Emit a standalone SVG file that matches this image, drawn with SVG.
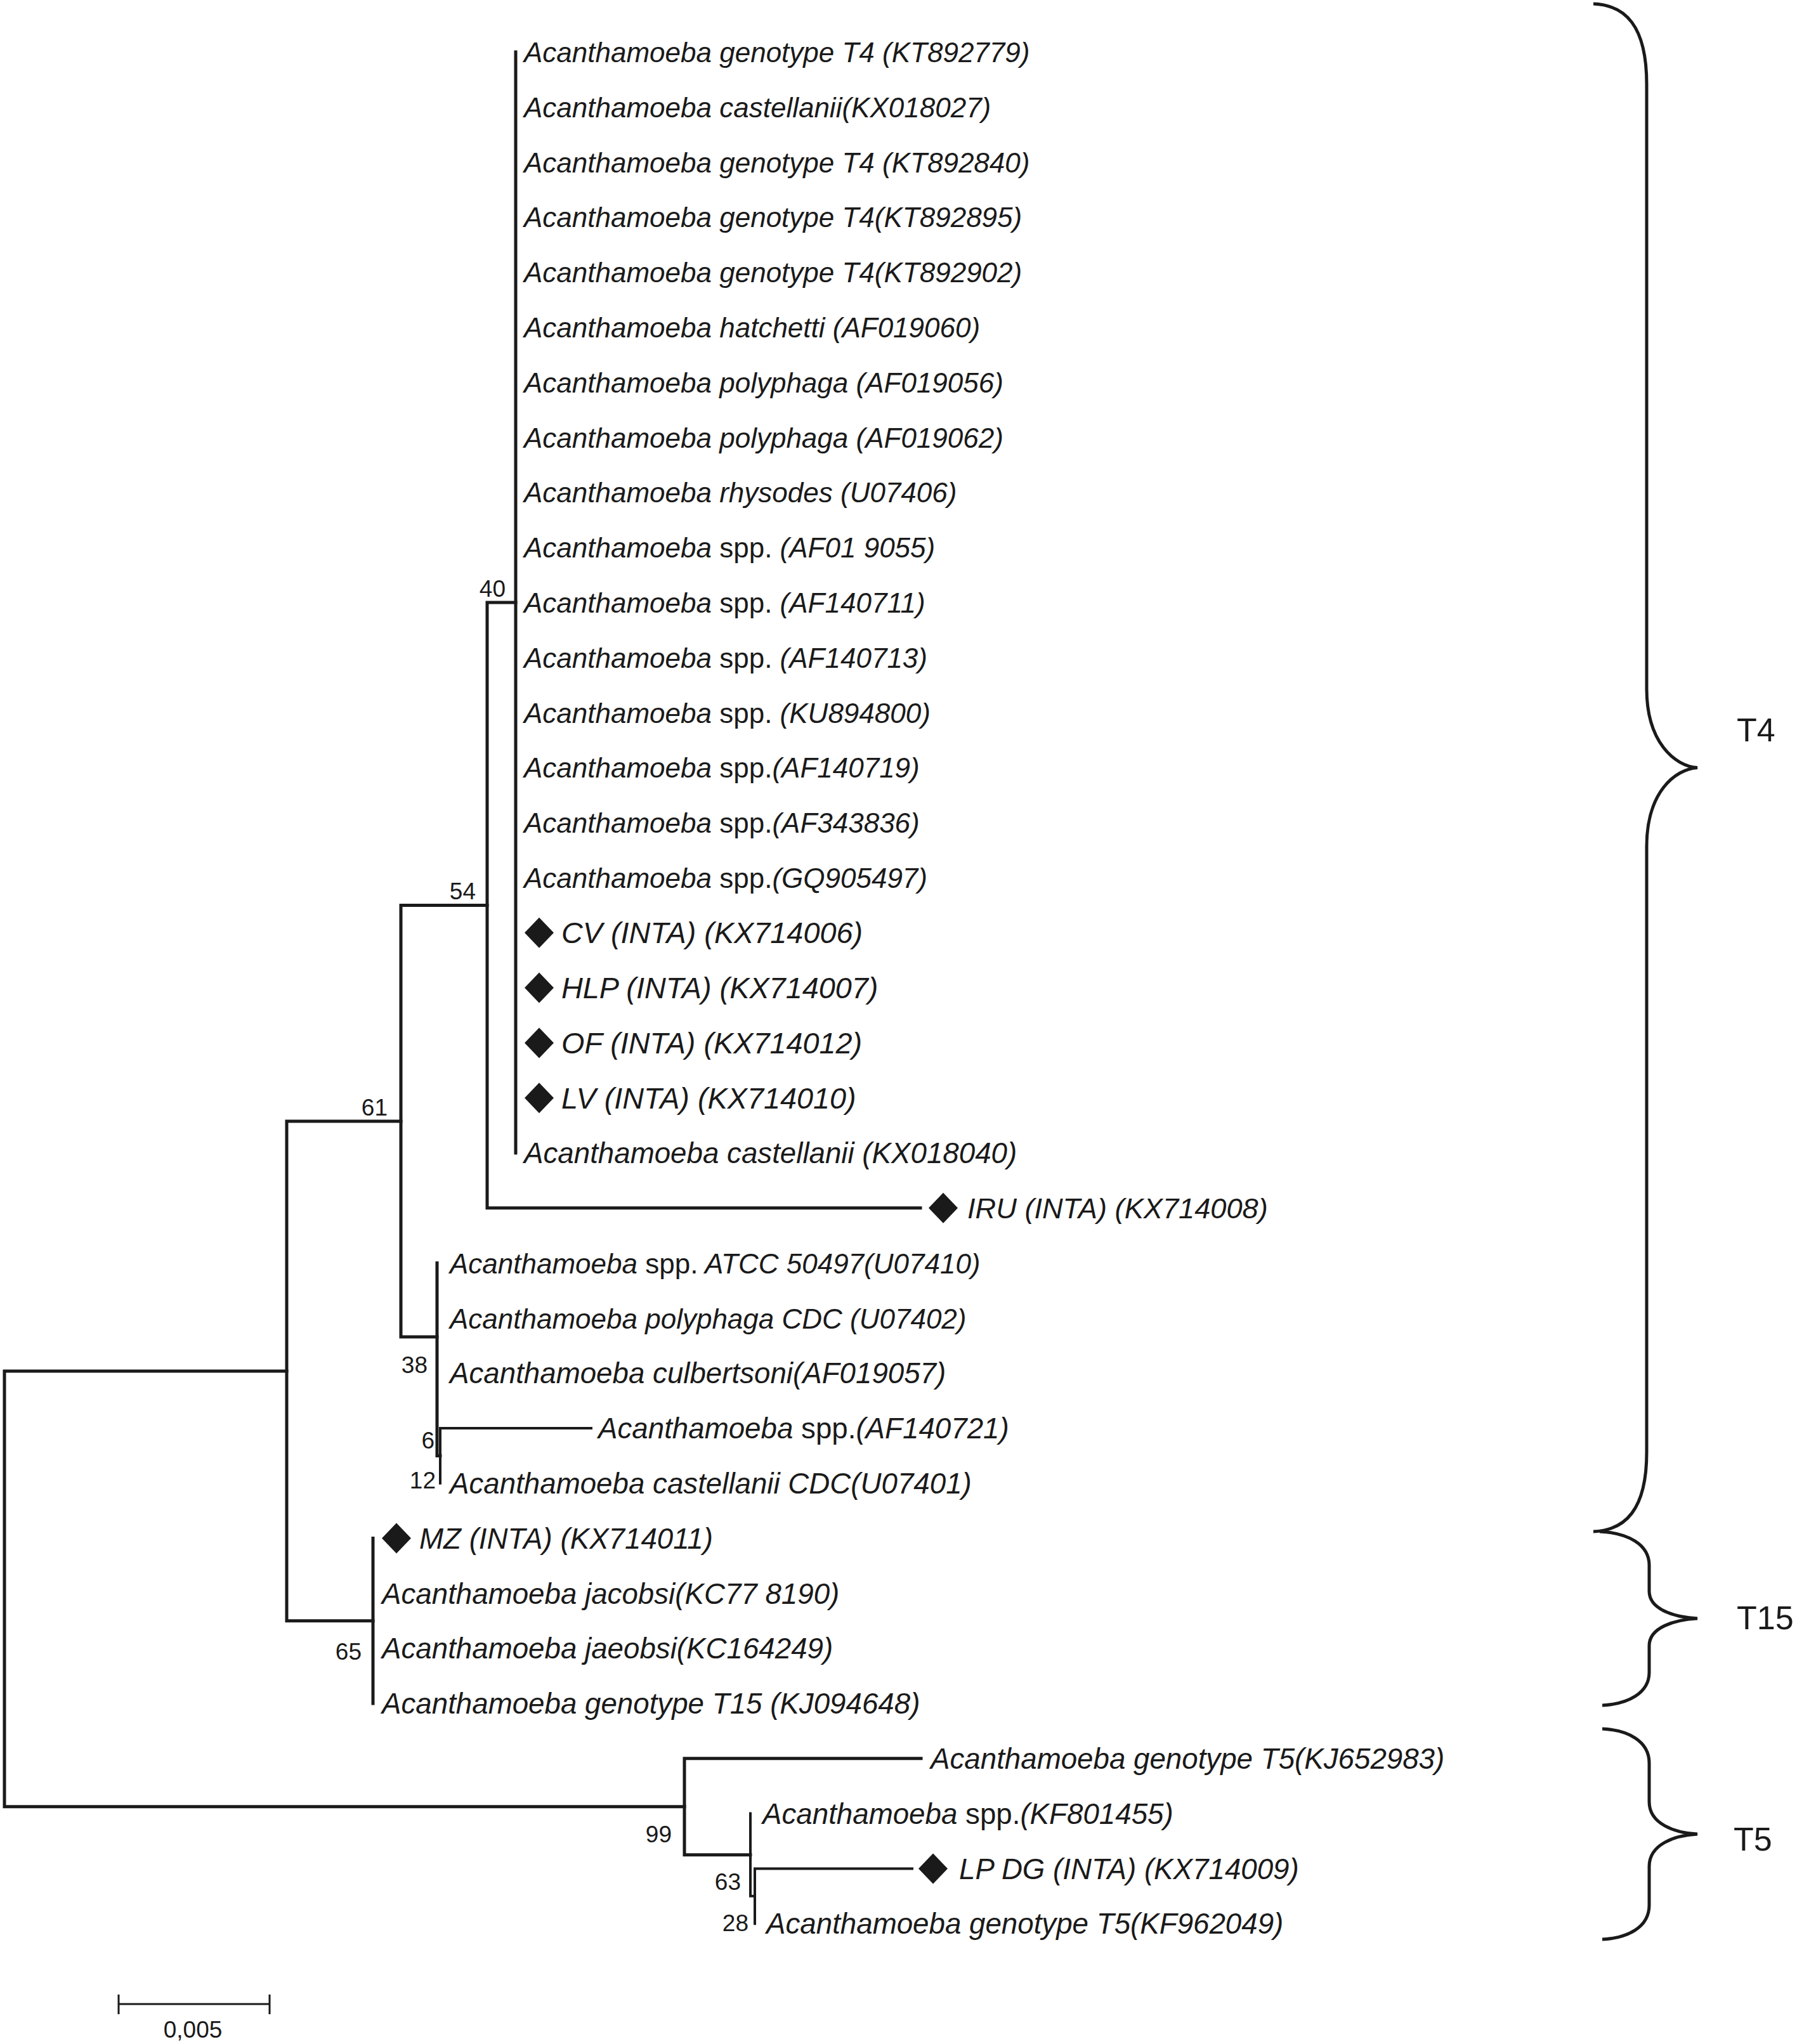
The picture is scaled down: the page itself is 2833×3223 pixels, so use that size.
<svg xmlns="http://www.w3.org/2000/svg" xmlns:xlink="http://www.w3.org/1999/xlink" width="2833" height="3223" viewBox="0 0 2833 3223">
<style>
.br{fill:none;stroke:#1a1a1a;stroke-width:5;stroke-linecap:square;stroke-linejoin:miter}
.thin{stroke-width:4}
.tip{font-family:"Liberation Sans",Arial,sans-serif;font-size:44px;font-style:italic;fill:#1a1a1a}
.lo{font-size:45.7px}
.in{font-size:46.8px}
.n{font-style:normal}
.bs{font-family:"Liberation Sans",Arial,sans-serif;font-size:37px;fill:#1a1a1a;text-anchor:end}
.grp{font-family:"Liberation Sans",Arial,sans-serif;font-size:52px;fill:#1a1a1a}
.brace{fill:none;stroke:#1a1a1a;stroke-width:5}
.sc{fill:none;stroke:#1a1a1a;stroke-width:3}
.dia{fill:#1a1a1a}
</style>
<defs>
<path id="dia" d="M0,-24 L23,0 L0,24 L-23,0Z"/>
</defs>
<rect width="2833" height="3223" fill="#ffffff"/>
<g id="branches">
<path class="br" d="M813,82 V1818"/>
<path class="br" d="M813,950 H768 V1904.8 H1451"/>
<path class="br" d="M768,1427.4 H632 V2108 H689"/>
<path class="br" d="M689,1991.6 V2295.4 H694"/>
<path class="br thin" d="M932,2252 H694 V2338.8"/>
<path class="br" d="M632,1768 H452 V2555.8 H588"/>
<path class="br" d="M588,2425.6 V2686"/>
<path class="br" d="M452,2162 H7 V2848.7 H1079"/>
<path class="br" d="M1452,2772.8 H1079 V2924.7 H1183"/>
<path class="br thin" d="M1183,2859.6 V2989.8 H1190"/>
<path class="br thin" d="M1438,2946.4 H1190 V3033.2"/>
</g>
<g id="support">
<text class="bs" x="797" y="941">40</text>
<text class="bs" x="750" y="1418">54</text>
<text class="bs" x="611" y="1759">61</text>
<text class="bs" x="674" y="2165">38</text>
<text class="bs" x="685" y="2284">6</text>
<text class="bs" x="687" y="2347">12</text>
<text class="bs" x="570" y="2617">65</text>
<text class="bs" x="1059" y="2905">99</text>
<text class="bs" x="1168" y="2980">63</text>
<text class="bs" x="1180" y="3045">28</text>
</g>
<g id="tips">
<g id="t1"><text class="tip" x="826" y="98">Acanthamoeba genotype T4 (KT892779)</text></g>
<g id="t2"><text class="tip" x="826" y="185">Acanthamoeba castellanii(KX018027)</text></g>
<g id="t3"><text class="tip" x="826" y="272">Acanthamoeba genotype T4 (KT892840)</text></g>
<g id="t4"><text class="tip" x="826" y="358">Acanthamoeba genotype T4(KT892895)</text></g>
<g id="t5"><text class="tip" x="826" y="445">Acanthamoeba genotype T4(KT892902)</text></g>
<g id="t6"><text class="tip" x="826" y="532">Acanthamoeba hatchetti (AF019060)</text></g>
<g id="t7"><text class="tip" x="826" y="619">Acanthamoeba polyphaga (AF019056)</text></g>
<g id="t8"><text class="tip" x="826" y="706">Acanthamoeba polyphaga (AF019062)</text></g>
<g id="t9"><text class="tip" x="826" y="792">Acanthamoeba rhysodes (U07406)</text></g>
<g id="t10"><text class="tip" x="826" y="879">Acanthamoeba <tspan class="n">spp.</tspan> (AF01 9055)</text></g>
<g id="t11"><text class="tip" x="826" y="966">Acanthamoeba <tspan class="n">spp.</tspan> (AF140711)</text></g>
<g id="t12"><text class="tip" x="826" y="1053">Acanthamoeba <tspan class="n">spp.</tspan> (AF140713)</text></g>
<g id="t13"><text class="tip" x="826" y="1140">Acanthamoeba <tspan class="n">spp.</tspan> (KU894800)</text></g>
<g id="t14"><text class="tip" x="826" y="1226">Acanthamoeba <tspan class="n">spp.</tspan>(AF140719)</text></g>
<g id="t15"><text class="tip" x="826" y="1313">Acanthamoeba <tspan class="n">spp.</tspan>(AF343836)</text></g>
<g id="t16"><text class="tip" x="826" y="1400">Acanthamoeba <tspan class="n">spp.</tspan>(GQ905497)</text></g>
<g id="t17"><use xlink:href="#dia" class="dia" x="850" y="1470.8"/><text class="tip in" x="885" y="1487">CV (INTA) (KX714006)</text></g>
<g id="t18"><use xlink:href="#dia" class="dia" x="850" y="1557.6"/><text class="tip in" x="885" y="1574">HLP (INTA) (KX714007)</text></g>
<g id="t19"><use xlink:href="#dia" class="dia" x="850" y="1644.4"/><text class="tip in" x="885" y="1661">OF (INTA) (KX714012)</text></g>
<g id="t20"><use xlink:href="#dia" class="dia" x="850" y="1731.2"/><text class="tip in" x="885" y="1748">LV (INTA) (KX714010)</text></g>
<g id="t21"><text class="tip lo" x="826" y="1834">Acanthamoeba castellanii (KX018040)</text></g>
<g id="t22"><use xlink:href="#dia" class="dia" x="1487" y="1904.8"/><text class="tip" x="1525" y="1921" style="font-size:45.2px">IRU (INTA) (KX714008)</text></g>
<g id="t23"><text class="tip" x="709" y="2008">Acanthamoeba <tspan class="n">spp.</tspan> ATCC 50497(U07410)</text></g>
<g id="t24"><text class="tip" x="709" y="2095">Acanthamoeba polyphaga CDC (U07402)</text></g>
<g id="t25"><text class="tip lo" x="709" y="2181">Acanthamoeba culbertsoni(AF019057)</text></g>
<g id="t26"><text class="tip lo" x="943" y="2268">Acanthamoeba <tspan class="n">spp.</tspan>(AF140721)</text></g>
<g id="t27"><text class="tip lo" x="709" y="2355">Acanthamoeba castellanii CDC(U07401)</text></g>
<g id="t28"><use xlink:href="#dia" class="dia" x="625" y="2425.6"/><text class="tip lo" x="661" y="2442">MZ (INTA) (KX714011)</text></g>
<g id="t29"><text class="tip lo" x="602" y="2529">Acanthamoeba jacobsi(KC77 8190)</text></g>
<g id="t30"><text class="tip lo" x="602" y="2615">Acanthamoeba jaeobsi(KC164249)</text></g>
<g id="t31"><text class="tip lo" x="602" y="2702">Acanthamoeba genotype T15 (KJ094648)</text></g>
<g id="t32"><text class="tip lo" x="1467" y="2789">Acanthamoeba genotype T5(KJ652983)</text></g>
<g id="t33"><text class="tip lo" x="1202" y="2876">Acanthamoeba <tspan class="n">spp.</tspan>(KF801455)</text></g>
<g id="t34"><use xlink:href="#dia" class="dia" x="1471" y="2946.4"/><text class="tip lo" x="1512" y="2963">LP DG (INTA) (KX714009)</text></g>
<g id="t35"><text class="tip lo" x="1208" y="3049">Acanthamoeba genotype T5(KF962049)</text></g>
</g>
<g id="groupT4">
<path class="brace" d="M2512,6 C2562,8 2596,40 2596,133 V1086 C2596,1170 2640,1208 2676,1210.5 C2640,1213 2596,1250 2596,1335 V2290 C2596,2381 2562,2413 2512,2415"/>
<text class="grp" x="2738" y="1169">T4</text>
</g>
<g id="groupT15">
<path class="brace" d="M2522,2415 C2566,2417 2600,2435 2600,2468 V2509 C2600,2538 2640,2550 2676,2552 C2640,2554 2600,2566 2600,2595 V2637 C2600,2670 2566,2687 2526,2689"/>
<text class="grp" x="2738" y="2569">T15</text>
</g>
<g id="groupT5">
<path class="brace" d="M2526,2726 C2566,2728 2600,2745 2600,2780 V2841 C2600,2876 2640,2890 2676,2892 C2640,2894 2600,2908 2600,2943 V3004 C2600,3039 2566,3056 2526,3058"/>
<text class="grp" x="2733" y="2918">T5</text>
</g>
<g id="scalebar">
<path class="sc" d="M187,3160 H425 M187,3145 V3176 M425,3145 V3176"/>
<text class="bs" x="304" y="3213" style="text-anchor:middle">0,005</text>
</g>
</svg>
